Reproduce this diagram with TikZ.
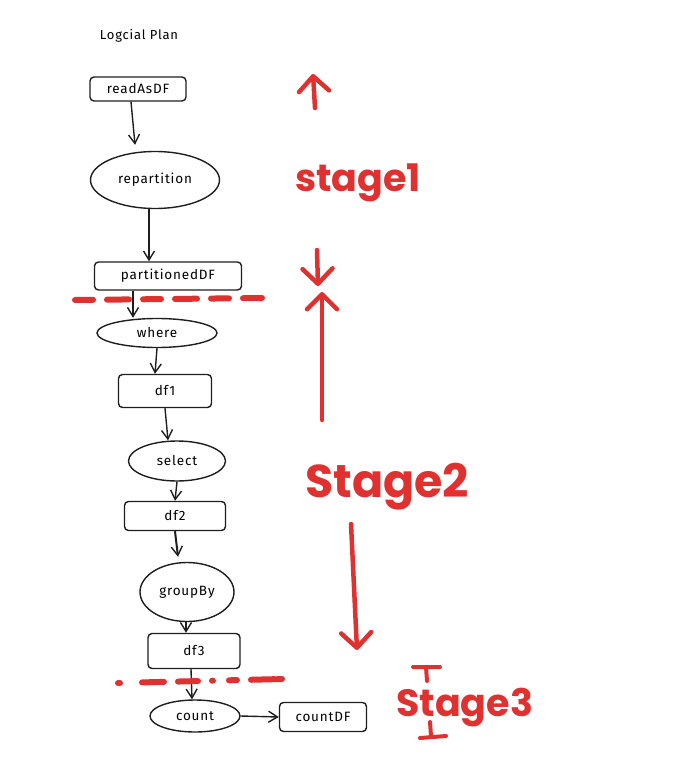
\documentclass[tikz,border=0pt]{standalone}
\usepackage{fontspec}
\setmainfont{Fira Sans}
\newfontfamily\handfont[LetterSpace=6]{Fira Sans}
\newfontfamily\redfont{Poppins Bold}
\usetikzlibrary{shapes.geometric,arrows.meta,calc}
\definecolor{exred}{HTML}{E03131}
\definecolor{ink}{HTML}{1E1E1E}
\tikzset{
  box/.style={draw=ink,line width=1.4pt,rounded corners=4pt,inner sep=0pt,font=\handfont\fontsize{13.5}{15}\selectfont},
  oval/.style={draw=ink,line width=1.4pt,ellipse,inner sep=0pt,font=\handfont\fontsize{13.5}{15}\selectfont},
  flow/.style={draw=ink,line width=1.4pt,-{Straight Barb[length=9pt,width=11pt,line width=1.4pt]}},
  redline/.style={draw=exred,line width=6pt,line cap=round},
  redarrow/.style={draw=exred,line width=4.5pt,line cap=round,-{Straight Barb[length=15pt,width=30pt,line width=4.5pt,round]}},
  redtext/.style={text=exred,inner sep=0pt,anchor=base west},
}
\begin{document}
\begin{tikzpicture}[x=1pt,y=-1pt]
\useasboundingbox (0,0) rectangle (673,759);
\node[font=\handfont\fontsize{13}{14}\selectfont,inner sep=0pt] (title) at (139,36) {Logcial Plan};

\node[box,minimum width=96pt,minimum height=24pt] (read) at (138,89) {readAsDF};
\node[oval,minimum width=129pt,minimum height=57pt] (rep) at (155,180) {repartition};
\node[box,minimum width=147pt,minimum height=28pt] (pdf) at (168,276) {partitionedDF};
\node[oval,minimum width=120pt,minimum height=29pt] (where) at (157,333) {where};
\node[box,minimum width=93pt,minimum height=33pt] (df1) at (165,391) {df1};
\node[oval,minimum width=97pt,minimum height=40pt] (sel) at (177,461) {select};
\node[box,minimum width=101pt,minimum height=29pt] (df2) at (175,516) {df2};
\node[oval,minimum width=94pt,minimum height=59pt] (grp) at (187,592) {groupBy};
\node[box,minimum width=92pt,minimum height=35pt] (df3) at (194,651) {df3};
\node[oval,minimum width=90pt,minimum height=32pt] (cnt) at (195,716) {count};
\node[box,minimum width=87pt,minimum height=29pt] (cdf) at (323,717) {countDF};

\draw[flow] ([xshift=-7pt]read.south) -- ([xshift=-20pt,yshift=6pt]rep.north);
\draw[flow] ([xshift=-6pt]rep.south) -- ([xshift=-19pt]pdf.north);
\draw[flow] ([xshift=-35pt]pdf.south) -- ([xshift=-24pt]where.north);
\draw[flow] (where.south) -- ([xshift=-10pt]df1.north);
\draw[flow] (df1.south) -- ([xshift=-9pt]sel.north);
\draw[flow] (sel.south) -- (df2.north);
\draw[flow,line width=2pt] (df2.south) -- ([xshift=-9pt,yshift=5pt]grp.north);
\draw[flow] ([xshift=-1pt]grp.south) -- ([xshift=-8pt]df3.north);
\draw[flow] ([xshift=-3pt]df3.south) -- ([xshift=-3pt]cnt.north);
\draw[flow] (cnt.east) -- (cdf.west);

% red dashed stage separators
\coordinate (s1a) at (75,300);
\coordinate (s1b) at (262,298);
\draw[redline,dash pattern=on 18pt off 14pt on 22pt off 14pt] (s1a) -- (s1b);
\coordinate (s2a) at (118,683);
\coordinate (s2b) at (282,679);
\draw[redline,dash pattern=on 2pt off 22pt on 22pt off 14pt on 20pt off 14pt on 1pt off 16pt on 8pt off 14pt on 24pt] (s2a) -- (s2b);

% stage 1
\coordinate (u1a) at (315,108);
\coordinate (u1b) at (313,74);
\draw[redarrow] (u1a) -- (u1b);
\node[redtext,font=\redfont\fontsize{38}{42}\selectfont] (st1) at (295,192) {stage1};
\coordinate (d1a) at (317,250);
\coordinate (d1b) at (318,286);
\draw[redarrow] (d1a) -- (d1b);

% stage 2
\coordinate (u2a) at (322,420);
\coordinate (u2b) at (322,292);
\draw[redarrow] (u2a) -- (u2b);
\node[redtext,font=\redfont\fontsize{46}{50}\selectfont] (st2) at (305,497) {Stage2};
\coordinate (d2a) at (351,524);
\coordinate (d2b) at (357,650);
\draw[redarrow] (d2a) -- (d2b);

% stage 3
\node[redtext,font=\redfont\fontsize{38}{42}\selectfont] (st3) at (396,716) {Stage3};
\draw[draw=exred,line width=4pt,line cap=round] (413,667) -- (440,667) (426,667) -- (427,681);
\draw[draw=exred,line width=4pt,line cap=round] (430,722) -- (431,736) (420,738) -- (446,736);
\end{tikzpicture}
\end{document}
